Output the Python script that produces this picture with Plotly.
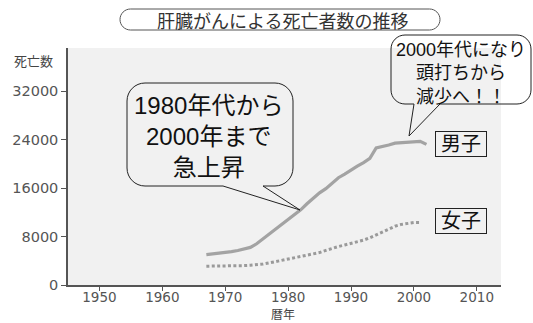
import plotly.graph_objects as go

# ---- data ----
years_male = list(range(1967, 2003))
male = [5000, 5100, 5200, 5400, 5500, 5700, 5900, 6200, 6800, 7600, 8400, 9100,
        9900, 10700, 11600, 12400, 13400, 14300, 15200, 15900, 16800, 17700, 18300,
        19000, 19600, 20200, 20900, 22600, 22800, 23100, 23400, 23500, 23500, 23600,
        23700, 23200]
years_female = list(range(1967, 2002))
female = [3100, 3100, 3100, 3100, 3150, 3200, 3200, 3250, 3300, 3450, 3650, 3850,
          4100, 4300, 4500, 4700, 4850, 5050, 5350, 5700, 6050, 6350, 6600, 6850,
          7100, 7400, 7800, 8300, 8800, 9300, 9700, 10000, 10200, 10300, 10300]
y_ticks = [0, 8000, 16000, 24000, 32000]
y_tick_labels = ["0", "8000", "16000", "24000", "32000"]
x_ticks = [1950, 1960, 1970, 1980, 1990, 2000, 2010]

title_text = "肝臓がんによる死亡者数の推移"
bubble1_text = "1980年代から<br>2000年まで<br>急上昇"
bubble2_text = "2000年代になり<br>頭打ちから<br>減少へ！！"

W, H = 533, 323
ML, MR, MT, MB = 68, 32, 48, 38

JP = "Liberation Sans, Noto Sans CJK JP, sans-serif"
JPG = "Noto Sans CJK JP, sans-serif"
TICKF = "DejaVu Sans, sans-serif"

fig = go.Figure()
fig.add_trace(go.Scatter(x=years_male, y=male, mode="lines",
                         line=dict(color="#a3a3a3", width=3.2), hoverinfo="skip"))
fig.add_trace(go.Scatter(x=years_female, y=female, mode="lines",
                         line=dict(color="#9a9a9a", width=3, dash="3px,2.4px"),
                         hoverinfo="skip"))


def P(x, y):
    return f"{x - ML:.2f},{MT - y:.2f}"


def bubble(x0, y0, x1, y1, r, tail=None):
    k = 0.5523 * r
    s = "M" + P(x0 + r, y0)
    s += " L" + P(x1 - r, y0)
    s += " C" + P(x1 - r + k, y0) + " " + P(x1, y0 + r - k) + " " + P(x1, y0 + r)
    s += " L" + P(x1, y1 - r)
    s += " C" + P(x1, y1 - r + k) + " " + P(x1 - r + k, y1) + " " + P(x1 - r, y1)
    if tail:
        xa, xb, tx, ty = tail
        s += " L" + P(xb, y1) + " L" + P(tx, ty) + " L" + P(xa, y1)
    s += " L" + P(x0 + r, y1)
    s += " C" + P(x0 + r - k, y1) + " " + P(x0, y1 - r + k) + " " + P(x0, y1 - r)
    s += " L" + P(x0, y0 + r)
    s += " C" + P(x0, y0 + r - k) + " " + P(x0 + r - k, y0) + " " + P(x0 + r, y0)
    s += " Z"
    return s


def shape(path, color="#222", width=1):
    return dict(type="path", xref="paper", yref="paper", xsizemode="pixel",
                ysizemode="pixel", xanchor=0, yanchor=1, path=path,
                line=dict(color=color, width=width), layer="above")


shapes = [
    shape(bubble(120, 9, 440, 30, 10.5), color="#555"),
    shape(bubble(127, 83, 293, 186, 18, tail=(223, 263, 300, 210))),
    shape(bubble(391, 35, 531, 104, 14, tail=(414, 440, 409, 136))),
]


def ann(text, px, py, size, color="#111", family=JP, **kw):
    return dict(text=text, xref="paper", yref="paper",
                x=(px - ML) / (W - ML - MR), y=1 - (py - MT) / (H - MT - MB),
                xanchor="center", yanchor="middle", showarrow=False,
                font=dict(size=size, color=color, family=family), **kw)


annotations = [
    ann(title_text, 282, 19.5, 18, color="#333", family=JPG),
    ann(bubble1_text, 208, 136, 24),
    ann(bubble2_text, 461, 73.5, 18),
    ann("男子", 461, 143.5, 20, bordercolor="#222", borderwidth=1, borderpad=1,
        width=48, height=22),
    ann("女子", 461, 220.5, 20, bordercolor="#222", borderwidth=1, borderpad=1,
        width=48, height=22),
    ann("死亡数", 33, 60, 13, color="#444", family=JPG),
    ann("暦年", 283, 313.5, 12, color="#444", family=JPG),
]

fig.update_layout(
    width=W, height=H,
    margin=dict(l=ML, r=MR, t=MT, b=MB, pad=0),
    paper_bgcolor="white", plot_bgcolor="#f1f1f1",
    showlegend=False,
    shapes=shapes, annotations=annotations,
    xaxis=dict(range=[1945, 2013.85], tickvals=x_ticks, showgrid=False,
               zeroline=False, showline=True, linecolor="#555", linewidth=1.5,
               ticks="outside", ticklen=4, tickcolor="#555", tickwidth=1.2,
               ticklabelstandoff=-5,
               tickfont=dict(family=TICKF, size=13.5, color="#555")),
    yaxis=dict(range=[0, 39100], tickvals=y_ticks, ticktext=y_tick_labels,
               showgrid=False, zeroline=False, showline=True, linecolor="#555",
               linewidth=1.5, ticks="outside", ticklen=5, tickcolor="#555",
               tickwidth=1.2, tickfont=dict(family=TICKF, size=14.5, color="#555")),
)

fig.write_html("out.html", config={"displayModeBar": False})
